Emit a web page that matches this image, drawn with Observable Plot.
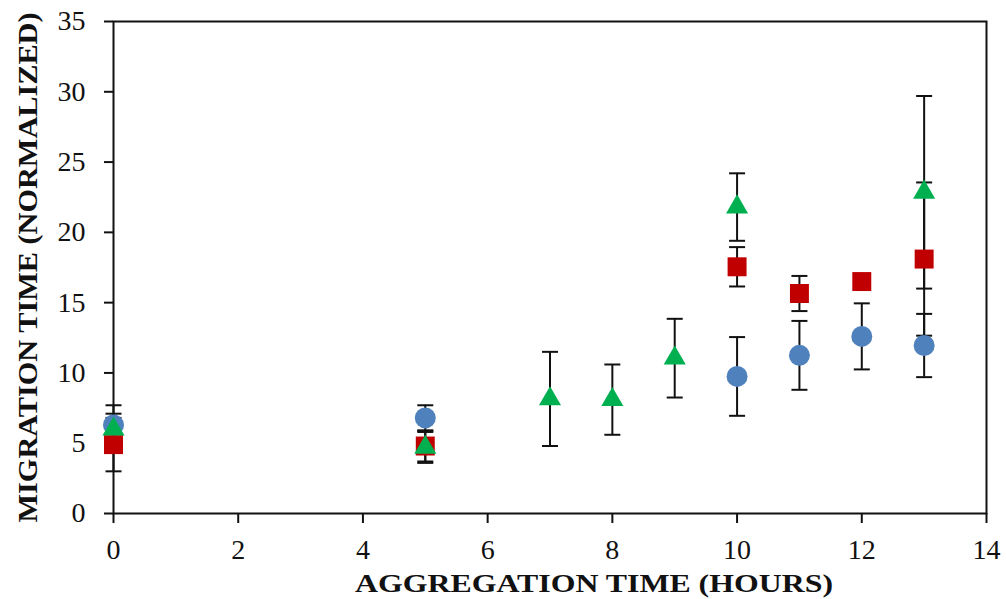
<!DOCTYPE html>
<html>
<head>
<meta charset="utf-8">
<script src="https://cdn.jsdelivr.net/npm/d3@7"></script>
<script src="https://cdn.jsdelivr.net/npm/@observablehq/plot@0.6"></script>
<style>
  html, body { margin: 0; padding: 0; background: #fff; }
  #chart svg { display: block; }
</style>
</head>
<body>
<div id="chart"></div>
<script>
// ---- data ----
const blueX   = [0, 5, 10, 11, 12, 13];
const blueY   = [6.3, 6.8, 9.75, 11.25, 12.6, 11.95];
const blueErr = [1.4, 0.9, 2.8, 2.45, 2.35, 2.25];

const redX   = [0, 5, 10, 11, 12, 13];
const redY   = [4.9, 4.8, 17.55, 15.65, 16.5, 18.1];
const redErr = [1.9, 1.1, 1.4, 1.25, 0.3, 5.45];

const greenX   = [0, 5, 7, 8, 9, 10, 13];
const greenY   = [6.0, 4.7, 8.15, 8.1, 11.05, 21.8, 22.85];
const greenErr = [1.1, 1.1, 3.35, 2.5, 2.8, 2.4, 6.85];

const xTicks = [0, 2, 4, 6, 8, 10, 12, 14];
const yTicks = [0, 5, 10, 15, 20, 25, 30, 35];
const xTitle = "AGGREGATION TIME (HOURS)";
const yTitle = "MIGRATION TIME (NORMALIZED)";

const mk = (xs, ys, es) => xs.map((x, i) => ({x, y: ys[i], lo: ys[i] - es[i], hi: ys[i] + es[i]}));
const blue = mk(blueX, blueY, blueErr);
const red = mk(redX, redY, redErr);
const green = mk(greenX, greenY, greenErr);
const all = [...blue, ...red, ...green];

const capSymbol = { draw(ctx) { ctx.moveTo(-8, 0); ctx.lineTo(8, 0); } };
const ink = "#111";

const chart = Plot.plot({
  width: 1006,
  height: 599,
  marginLeft: 113,
  marginRight: 20,
  marginTop: 21,
  marginBottom: 86,
  style: { fontFamily: "'Liberation Serif', 'Times New Roman', serif", background: "#fff", color: ink },
  x: { domain: [0, 14] },
  y: { domain: [0, 35] },
  marks: [
    Plot.frame({ stroke: ink, strokeWidth: 2 }),
    Plot.axisX({ ticks: xTicks, tickSize: 10, tickPadding: 16, tickFormat: d => d, fontSize: 28, label: null, stroke: ink, strokeWidth: 2 }),
    Plot.axisY({ ticks: yTicks, tickSize: 9, tickPadding: 19, tickFormat: d => d, fontSize: 28, label: null, stroke: ink, strokeWidth: 2 }),
    Plot.ruleX(all, { x: "x", y1: "lo", y2: "hi", stroke: ink, strokeWidth: 2 }),
    Plot.dot(all, { x: "x", y: "lo", symbol: capSymbol, stroke: ink, strokeWidth: 2, fill: "none" }),
    Plot.dot(all, { x: "x", y: "hi", symbol: capSymbol, stroke: ink, strokeWidth: 2, fill: "none" }),
    Plot.dot(blue, { x: "x", y: "y", symbol: "circle", r: 10.5, fill: "#4F81BD", stroke: "none" }),
    Plot.dot(red, { x: "x", y: "y", symbol: d3.symbolSquare, r: 10.7, fill: "#C00000", stroke: "none" }),
    Plot.dot(green, { x: "x", y: "y", symbol: d3.symbolTriangle, r: 8.2, fill: "#00B050", stroke: "none" }),
    Plot.text([yTitle], { text: d => d, frameAnchor: "left", rotate: -90, dx: -85, textAnchor: "middle", lineAnchor: "middle", fontSize: 28, fontWeight: "bold", fill: ink }),
    Plot.text([xTitle], { text: d => d, frameAnchor: "bottom", dx: 44, dy: 70, textAnchor: "middle", lineAnchor: "middle", fontSize: 26, fontWeight: "bold", fill: ink })
  ]
});

d3.select(chart).selectAll("text").each(function () {
  const t = this.textContent;
  if (t === xTitle) d3.select(this).attr("textLength", 478).attr("lengthAdjust", "spacingAndGlyphs");
  if (t === yTitle) d3.select(this).attr("textLength", 510).attr("lengthAdjust", "spacingAndGlyphs");
});

document.getElementById("chart").appendChild(chart);
</script>
</body>
</html>
